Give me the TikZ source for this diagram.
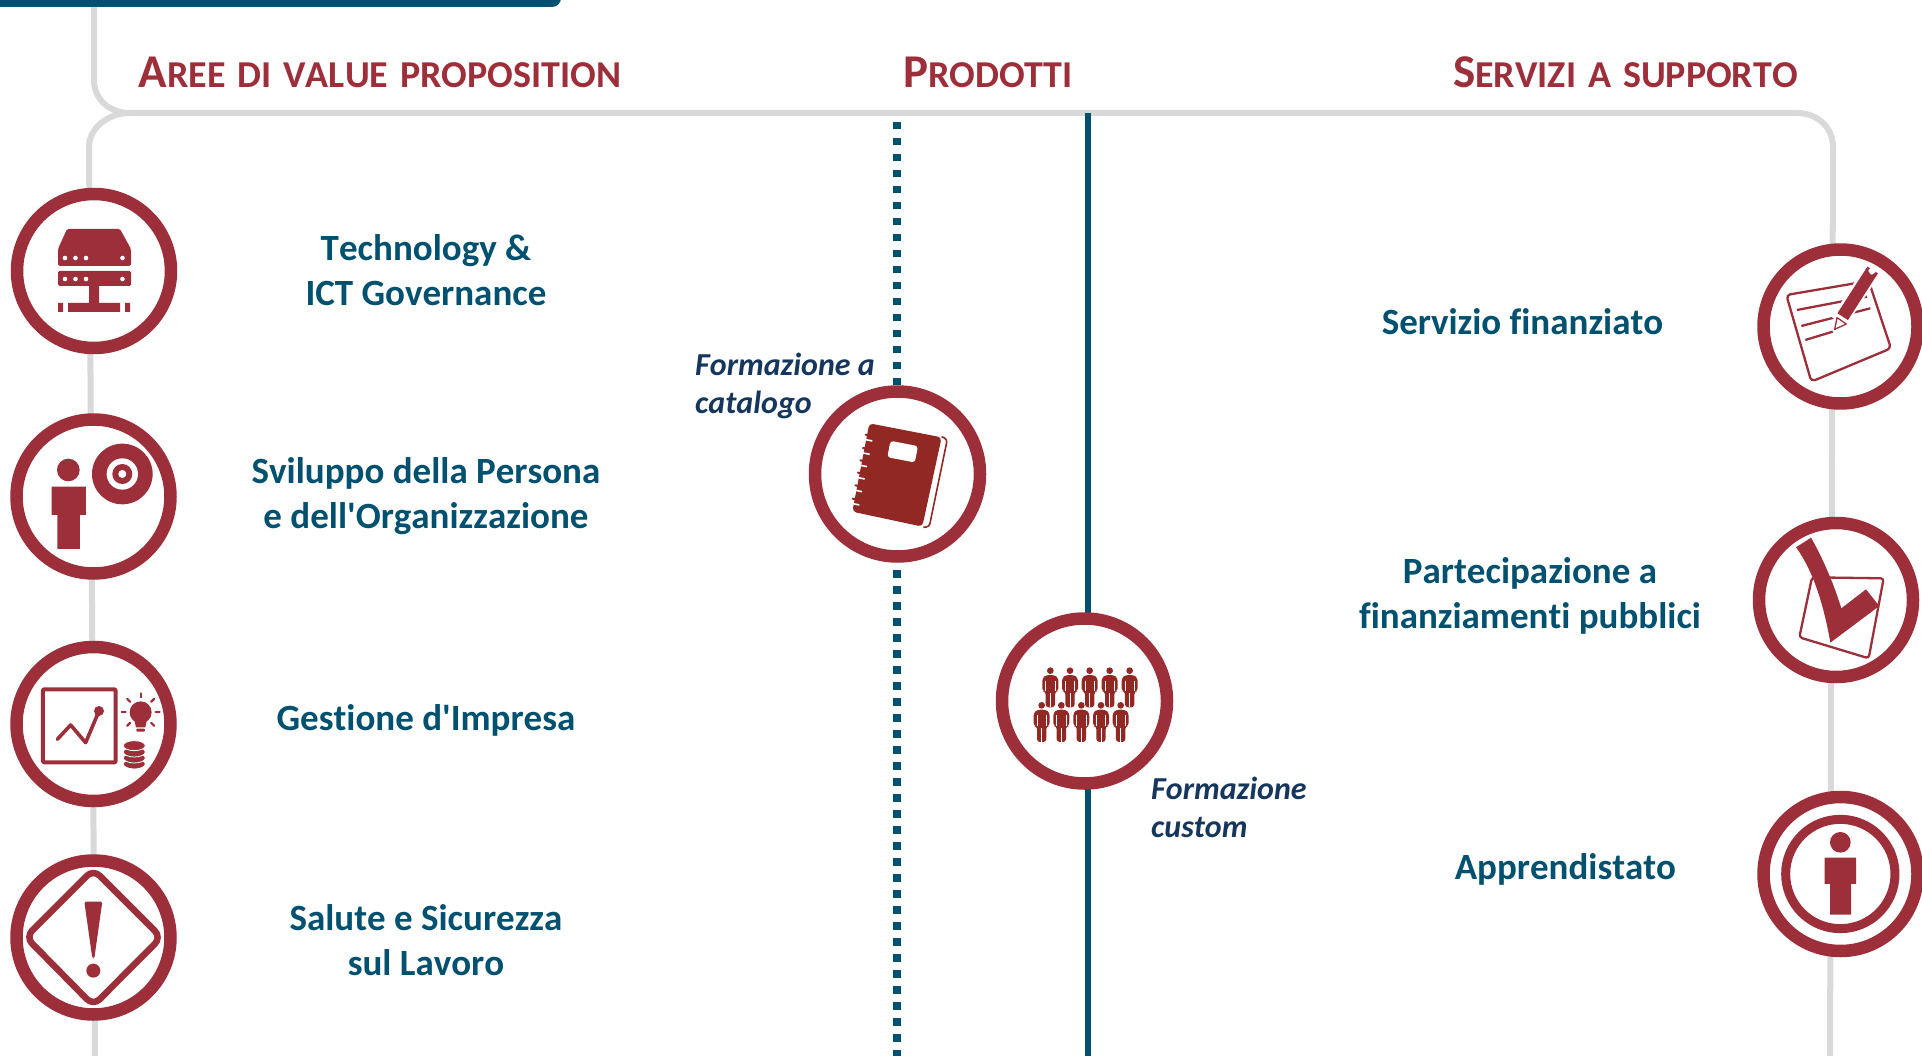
\documentclass[tikz,border=0pt]{standalone}
\usepackage{fontspec}
\setmainfont{Carlito}[Ligatures={TeXOff,NoCommon},Kerning=Off]

\definecolor{ringred}{HTML}{9C2F3A}
\definecolor{iconred}{HTML}{922824}
\definecolor{railgray}{HTML}{D9D9D9}
\definecolor{petrol}{HTML}{00506F}
\definecolor{navy}{HTML}{17365D}

\newcommand{\headcaps}[2]{{\fontsize{47}{47}\selectfont #1\fontsize{38}{38}\selectfont\spaceskip=\dimexpr\fontdimen2\font+3.3pt\relax #2}}

\tikzset{
  rail/.style={draw=railgray, line width=6pt},
  ring/.style={circle, draw=ringred, fill=white, line width=12.5pt, inner sep=0pt, minimum size=154pt},
  bigring/.style={ring, minimum size=165pt},
  headtext/.style={anchor=base west, font=\bfseries, text=ringred, inner sep=0pt},
  areatext/.style={align=center, text=petrol, inner sep=0pt, font=\fontsize{37}{44.5}\selectfont\bfseries},
  prodtext/.style={align=left, anchor=north west, text=navy, inner sep=0pt, font=\fontsize{32}{38}\selectfont\bfseries\itshape},
  zoomed/.style={x=.3333pt, y=-.3333pt},
  figurino/.pic={
    \fill [iconred] (0,0) circle (10);
    \fill [iconred, rounded corners=3] (-24,62) -- (-24,22) -- (-12,13) -- (12,13) -- (24,22) -- (24,62) -- (14,62) -- (14,110) -- (-14,110) -- (-14,62) -- cycle;
    \draw [white, line width=.7pt] (-14,30) -- (-14,62) (14,30) -- (14,62) (0,68) -- (0,110);
  }
}

\begin{document}
\begin{tikzpicture}[x=1pt, y=-1pt, line join=round]
  \useasboundingbox (0,0) rectangle (1922,1056);

  % gray rails
  \coordinate (railstart) at (94,5);
  \coordinate (railleft) at (89,147);
  \coordinate (railright) at (1833,147);
  \coordinate (railleftend) at (95,1056);
  \coordinate (railrightend) at (1830,1056);
  \draw [rail] (railstart) -- (94,80) .. controls (94,100) and (110,113) .. (130,113) -- (1797,113)
    .. controls (1818,113) and (1833,128) .. (railright) -- (railrightend);
  \draw [rail] (130,113) .. controls (108,113) and (89,128) .. (railleft) -- (railleftend);

  % top bar
  \fill [petrol, rounded corners=9pt] (-20,-20) rectangle (561,7);

  % product lines
  \coordinate (cattop) at (897,122);
  \coordinate (catend) at (897,1056);
  \coordinate (custop) at (1088,113);
  \coordinate (cusend) at (1088,1056);
  \draw [petrol, line width=8pt, dash pattern=on 7.5pt off 8.5pt] (cattop) -- (catend);
  \draw [petrol, line width=6pt] (custop) -- (cusend);

  % headings
  \node (headaree) [headtext] at (138.5,87.3) {\headcaps{A}{REE DI VALUE PROPOSITION}};
  \node (headprod) [headtext] at (903,87.3) {\headcaps{P}{RODOTTI}};
  \node (headserv) [headtext] at (1453,87.3) {\headcaps{S}{ERVIZI A SUPPORTO}};

  % rings
  \node (ringtech) [ring] at (94,271) {};
  \node (ringpers) [ring] at (93.5,496.5) {};
  \node (ringgest) [ring] at (93.5,724) {};
  \node (ringsal) [ring] at (93.5,937.5) {};
  \node (ringcat) [bigring] at (897.5,474) {};
  \node (ringcus) [bigring] at (1084.5,701) {};
  \node (ringfin) [ring] at (1840.5,326.5) {};
  \node (ringpub) [ring] at (1836,600) {};
  \node (ringapp) [ring] at (1840.5,874) {};

  % texts
  \node (texttech) [areatext] at (426,270) {Technology \&\\ICT Governance};
  \node (textpers) [areatext] at (426,496) {Sviluppo della Persona\\e dell'Organizzazione};
  \node (textgest) [areatext] at (426,720) {Gestione d'Impresa};
  \node (textsal) [areatext] at (426,940) {Salute e Sicurezza\\sul Lavoro};
  \node (textfin) [areatext] at (1522.5,322) {Servizio finanziato};
  \node (textpub) [areatext] at (1530,596) {Partecipazione a~\\finanziamenti pubblici};
  \node (textapp) [areatext] at (1565.4,869.5) {Apprendistato};
  \node (textcat) [prodtext] at (695,353) {Formazione a\\catalogo};
  \node (textcus) [prodtext] at (1151,777) {Formazione\\custom};

  % server icon
  \fill [ringred, rounded corners=1.5pt] (58,266) -- (58,249) -- (67,229) -- (120,229) -- (131,249) -- (131,266) -- cycle;
  \fill [ringred, rounded corners=1.5pt] (58,271) rectangle (131,286);
  \fill [ringred] (89,286) rectangle (99,303) (68,303) rectangle (120,312) (58,303) rectangle (63,312) (125,303) rectangle (130,312);
  \foreach \y in {258,279}
  \foreach \x in {65,75.5,86,122.5}{
    \fill [white] (\x,\y) circle (2.3);
  }

  % person and disc icon
  \begin{scope}[shift={(0,400)}, zoomed]
    \fill [ringred] (205,210) circle (34);
    \fill [ringred] (155,260) -- (258,260) -- (258,345) -- (240,345) -- (240,447) -- (172,447) -- (172,345) -- (155,345) -- cycle;
    \fill [ringred] (367,222) circle (91);
    \fill [white] (367,222) circle (47);
    \fill [ringred] (367,222) circle (30);
    \fill [white] (367,222) circle (12);
  \end{scope}

  % chart icon
  \begin{scope}[shift={(0,630)}, zoomed]
    \draw [ringred, line width=4pt, rounded corners=1pt] (129,178) rectangle (347,397);
    \draw [ringred, line width=3.6pt, line cap=round] (172,328) -- (212,285) -- (257,338) -- (297,243);
    \fill [ringred] (297,243) circle (15);
    \fill [ringred] (422,247) circle (33);
    \fill [ringred] (403,270) -- (441,270) -- (436,292) -- (408,292) -- cycle;
    \fill [ringred, rounded corners=1pt] (409,296) rectangle (435,305);
    \foreach \a in {0,-45,-90,-135,180,45,135}{
      \draw [ringred, line width=2.2pt, line cap=round] (422,247) ++(\a:45) -- ++(\a:12);
    }
    \foreach \y in {402,384,366,347}{
      \fill [ringred, draw=white, line width=.8pt] (403,\y) ellipse (33 and 15);
    }
  \end{scope}

  % warning icon
  \begin{scope}[shift={(0,840)}, zoomed]
    \draw [ringred, line width=6.5pt, rounded corners=9pt] (77,291) -- (280,88) -- (484,292) -- (280,497) -- cycle;
    \fill [ringred, rounded corners=1.5pt] (253,185) -- (307,185) -- (283,355) -- (277,355) -- cycle;
    \fill [ringred] (280,392) circle (21);
  \end{scope}

  % book icon
  \begin{scope}[shift={(680,330)}, zoomed]
    \fill [iconred, rounded corners=4pt] (568,280) -- (785,322) -- (727,590) -- (517,545) -- cycle;
    \draw [iconred, line width=1.6pt, rounded corners=3pt] (785,320) -- (802,328) -- (748,590) -- (730,592);
    \fill [white, rotate around={-11:(668,365)}, rounded corners=3pt] (626,340) rectangle (710,390);
    \foreach \y/\x in {318/563,358/555,395/547,432/540,470/532,510/524}{
      \draw [white, line width=1.6pt] (\x-10,\y+10) -- (\x+14,\y+15);
      \draw [iconred, line width=2pt, line cap=round] (\x-6,\y-4) -- (\x+14,\y);
    }
  \end{scope}

  % people icon
  \begin{scope}[shift={(980,600)}, zoomed]
    \foreach \x in {211,270,329,389,449}{
      \pic at (\x,212) {figurino};
    }
    \foreach \x in {185,244,304,363,422}{
      \pic at (\x,316) {figurino};
    }
  \end{scope}

  % form icon
  \begin{scope}[shift={(1722,220)}, zoomed]
    \draw [ringred, line width=2.3pt, rounded corners=4pt] (193,225) -- (440,183) -- (507,385) -- (268,485) -- cycle;
    \draw [ringred, line width=2.3pt] (225,270) -- (435,230) (238,318) -- (445,265) (250,360) -- (332,335);
    \draw [white, line width=17pt] (350,305) -- (452,150);
    \draw [ringred, line width=12.5pt] (362,290) -- (452,150);
    \fill [white, draw=ringred, line width=1.3pt] (338,328) -- (345,293) -- (373,312) -- cycle;
    \fill [white, rotate around={35:(450,153)}, rounded corners=1pt] (441,144) rectangle (459,162);
  \end{scope}

  % check icon
  \begin{scope}[shift={(1722,500)}, zoomed]
    \draw [ringred, line width=2.3pt, rounded corners=3pt] (270,232) -- (485,235) -- (440,475) -- (232,412) -- cycle;
    \fill [ringred] (222,142) -- (267,113) .. controls (300,170) and (335,250) .. (358,325) -- (432,268) -- (472,318) -- (325,428)
      .. controls (310,340) and (280,220) .. cycle;
  \end{scope}

  % info icon
  \begin{scope}[shift={(1722,770)}, zoomed]
    \draw [ringred, line width=9pt] (355,312) circle (164);
    \fill [ringred] (355,217) circle (31);
    \fill [ringred] (308,263) -- (402,263) -- (402,342) -- (387,342) -- (387,434) -- (324,434) -- (324,342) -- (308,342) -- cycle;
  \end{scope}
\end{tikzpicture}
\end{document}
